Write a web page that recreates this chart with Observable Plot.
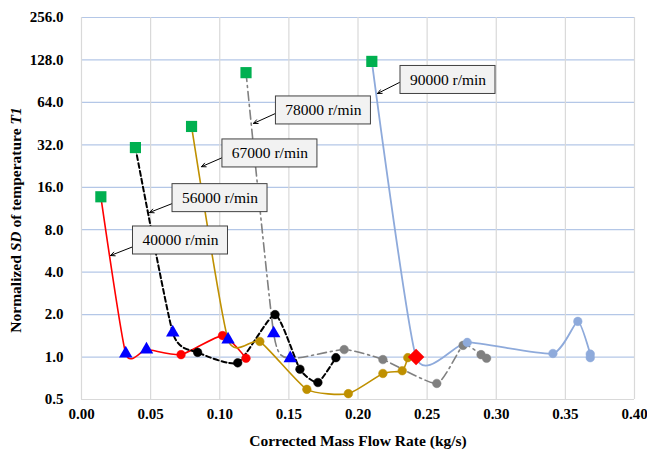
<!DOCTYPE html>
<html>
<head>
<meta charset="utf-8">
<script src="https://cdn.jsdelivr.net/npm/d3@7"></script>
<script src="https://cdn.jsdelivr.net/npm/@observablehq/plot@0.6"></script>
<style>
  html, body { margin: 0; padding: 0; background: #fff; }
</style>
</head>
<body>
<div id="chart"></div>
<script>
// ---- data ----
const xTicks = [0, 0.05, 0.10, 0.15, 0.20, 0.25, 0.30, 0.35, 0.40];
const yTicks = [0.5, 1, 2, 4, 8, 16, 32, 64, 128, 256];

const speeds = ["40000", "56000", "67000", "78000", "90000"];

const flow40000 = [0.014, 0.032, 0.047, 0.072, 0.102, 0.119];
const sd40000   = [13.7, 1.06, 1.13, 1.04, 1.42, 0.98];
const mk40000   = ["square", "triangle", "triangle", "circle", "circle", "circle"];

const flow56000 = [0.039, 0.066, 0.084, 0.113, 0.140, 0.158, 0.171, 0.184];
const sd56000   = [30.6, 1.49, 1.08, 0.91, 2.0, 0.82, 0.66, 0.99];
const mk56000   = ["square", "triangle", "circle", "circle", "circle", "circle", "circle", "circle"];

const flow67000 = [0.0796, 0.106, 0.129, 0.163, 0.193, 0.218, 0.232, 0.236];
const sd67000   = [43.2, 1.33, 1.29, 0.59, 0.55, 0.765, 0.80, 0.99];
const mk67000   = ["square", "triangle", "circle", "circle", "circle", "circle", "circle", "circle"];

const flow78000 = [0.119, 0.139, 0.151, 0.190, 0.218, 0.257, 0.276, 0.289, 0.293];
const sd78000   = [104, 1.47, 0.98, 1.13, 0.96, 0.65, 1.21, 1.04, 0.98];
const mk78000   = ["square", "triangle", "triangle", "circle", "circle", "circle", "circle", "circle", "circle"];

const flow90000 = [0.210, 0.242, 0.279, 0.341, 0.359, 0.368, 0.368];
const sd90000   = [125, 1.0, 1.27, 1.06, 1.79, 1.05, 0.99];
const mk90000   = ["square", "diamond", "circle", "circle", "circle", "circle", "circle"];

const seriesColors = ["#ff0000", "#000000", "#bf9000", "#808080", "#8eaadb"];
const seriesDash   = ["none", "5,3", "none", "9,4,2,4", "none"];
const seriesWidth  = [1.6, 2, 1.6, 1.6, 1.8];

// callouts: label, box centre, arrow start, arrow tip (data units)
const calloutLabel = ["40000 r/min", "56000 r/min", "67000 r/min", "78000 r/min", "90000 r/min"];
const boxX   = [0.0716, 0.1002, 0.1363, 0.1750, 0.2651];
const boxY   = [6.71, 13.4, 27.8, 56.1, 92.3];
const fromX  = [0.0376, 0.0658, 0.1020, 0.1403, 0.2300];
const fromY  = [6.08, 12.28, 26.0, 53.4, 88.6];
const tipX   = [0.0210, 0.0492, 0.0868, 0.1244, 0.2141];
const tipY   = [5.25, 10.6, 22.4, 45.4, 74.0];

// ---- build tables ----
const flows = [flow40000, flow56000, flow67000, flow78000, flow90000];
const sds   = [sd40000, sd56000, sd67000, sd78000, sd90000];
const mks   = [mk40000, mk56000, mk67000, mk78000, mk90000];
const rows = [];
speeds.forEach((s, i) => {
  flows[i].forEach((x, j) => rows.push({speed: s, x, y: sds[i][j], marker: mks[i][j], color: seriesColors[i]}));
});
const callouts = calloutLabel.map((label, i) => ({label, cx: boxX[i], cy: boxY[i], fx: fromX[i], fy: fromY[i], tx: tipX[i], ty: tipY[i]}));

const serif = "'Liberation Serif', 'Times New Roman', serif";
const smooth = d3.curveCardinal.tension(0.45);

const lineMarks = speeds.map((s, i) => Plot.line(rows.filter(d => d.speed === s), {
  x: "x", y: "y", stroke: seriesColors[i], strokeWidth: seriesWidth[i],
  strokeDasharray: seriesDash[i], curve: smooth
}));

const svg = Plot.plot({
  width: 647,
  height: 454,
  marginLeft: 81,
  marginRight: 13,
  marginTop: 17,
  marginBottom: 55,
  style: {fontFamily: serif, fontSize: "15px", fontWeight: "bold", background: "#fff", color: "#000"},
  color: {type: "identity"},
  x: {domain: [0, 0.4]},
  y: {type: "log", domain: [0.5, 256]},
  marks: [
    Plot.ruleY(yTicks.filter(d => d > 0.5), {stroke: "#b4c7e7", strokeWidth: 1.2}),
    Plot.ruleX(xTicks, {stroke: "#d9d9d9", strokeWidth: 1.2}),
    Plot.ruleY([0.5], {stroke: "#d9d9d9", strokeWidth: 1.2}),
    Plot.axisX({ticks: xTicks, tickSize: 0, tickPadding: 9, tickFormat: d => d.toFixed(2), label: null, fontSize: 15}),
    Plot.axisY({ticks: yTicks, tickSize: 0, text: null, label: null}),
    Plot.text(yTicks, {x: 0, y: d => d, text: d => d.toFixed(1), textAnchor: "end", dx: -18, fontSize: 15, fontWeight: "bold", fill: "#000", clip: false}),
    ...lineMarks,
    Plot.dot(rows.filter(d => d.marker === "circle"), {x: "x", y: "y", r: 4.3, fill: "color", stroke: "color", strokeWidth: 0.5}),
    Plot.dot(rows.filter(d => d.marker === "square"), {x: "x", y: "y", symbol: "square", r: 6.3, fill: "#00b050"}),
    Plot.dot(rows.filter(d => d.marker === "triangle"), {x: "x", y: "y", symbol: "triangle", r: 5.0, fill: "#0000ff"}),
    Plot.dot(rows.filter(d => d.marker === "diamond"), {x: "x", y: "y", symbol: "square", rotate: 45, r: 6.6, fill: "#ff0000"}),
    Plot.arrow(callouts, {x1: "fx", y1: "fy", x2: "tx", y2: "ty", stroke: "#000", strokeWidth: 1, headLength: 7, headAngle: 50}),
    Plot.rect(callouts, {x1: "cx", x2: "cx", y1: "cy", y2: "cy", insetLeft: -47.5, insetRight: -47.5, insetTop: -14, insetBottom: -14, fill: "#f2f2f2", stroke: "#404040", strokeWidth: 1}),
    Plot.text(callouts, {x: "cx", y: "cy", text: "label", fontWeight: "normal", fontSize: 15.5, fill: "#000"})
  ]
});

// axis titles (with italic parts)
const sel = d3.select(svg);
const yl = sel.append("text")
  .attr("transform", "translate(21,220) rotate(-90)")
  .attr("text-anchor", "middle")
  .attr("font-family", serif)
  .attr("font-weight", "bold")
  .attr("font-size", 15.5)
  .attr("fill", "#000");
yl.append("tspan").text("Normalized ");
yl.append("tspan").attr("font-style", "italic").text("SD");
yl.append("tspan").text(" of temperature ");
yl.append("tspan").attr("font-style", "italic").text("T1");

sel.append("text")
  .attr("x", 358).attr("y", 446)
  .attr("text-anchor", "middle")
  .attr("font-family", serif)
  .attr("font-weight", "bold")
  .attr("font-size", 15.5)
  .attr("fill", "#000")
  .text("Corrected Mass Flow Rate (kg/s)");

document.getElementById("chart").appendChild(svg);
</script>
</body>
</html>
